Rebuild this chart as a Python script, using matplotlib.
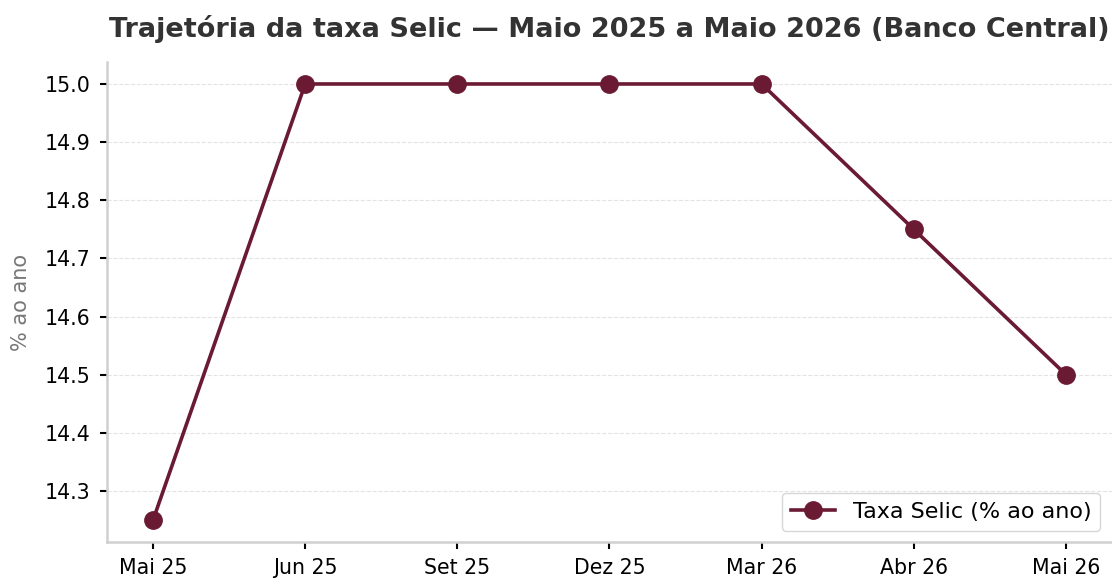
import matplotlib.pyplot as plt

plt.rcParams['font.family'] = 'DejaVu Sans'

# Selic path, May 2025 -> May 2026 (Copom meetings)
meses = ['Mai 25', 'Jun 25', 'Set 25', 'Dez 25', 'Mar 26', 'Abr 26', 'Mai 26']
selic = [14.25, 15.00, 15.00, 15.00, 15.00, 14.75, 14.50]

COR_SELIC = '#6b1a33'

fig = plt.figure(figsize=(11.12, 5.8), dpi=100)
ax = fig.add_axes([0.0966, 0.0659, 0.903, 0.8269])

x = list(range(len(meses)))
ax.plot(x, selic, color=COR_SELIC, lw=2.6, marker='o', markersize=12.5,
        label='Taxa Selic (% ao ano)')

ax.set_xticks(x)
ax.set_xticklabels(meses)
ax.set_yticks([14.3, 14.4, 14.5, 14.6, 14.7, 14.8, 14.9, 15.0])
ax.tick_params(labelsize=14.8, length=5, width=1.5, pad=7)

ax.grid(axis='y', linestyle='--', color='#e3e3e3', lw=0.8)
ax.set_axisbelow(True)

for side in ('top', 'right'):
    ax.spines[side].set_visible(False)
for side in ('left', 'bottom'):
    ax.spines[side].set_color('#d0d0d0')
    ax.spines[side].set_linewidth(1.8)

ax.set_ylabel('% ao ano', fontsize=15, color='#777777', labelpad=10)
ax.set_title('Trajetória da taxa Selic — Maio 2025 a Maio 2026 (Banco Central)',
             fontsize=19.5, fontweight='bold', color='#333333', pad=18)
ax.legend(loc='lower right', fontsize=16)

fig.savefig('out.png', dpi=100)
